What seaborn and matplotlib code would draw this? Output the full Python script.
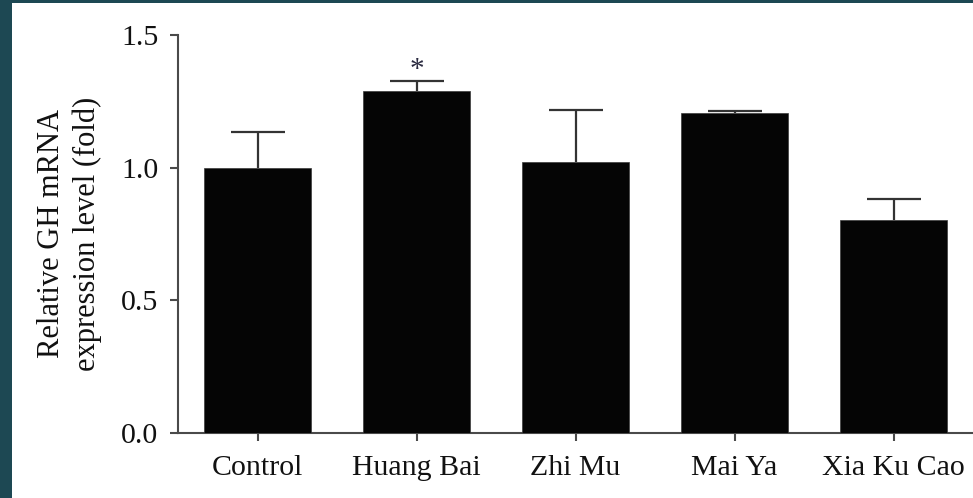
import matplotlib
matplotlib.use("Agg")
import matplotlib.pyplot as plt
import matplotlib.patches as mpatches
import numpy as np
import pandas as pd
import seaborn as sns

# Relative GH mRNA expression per treatment (mean and upper SEM)
groups = ["Control", "Huang Bai", "Zhi Mu", "Mai Ya", "Xia Ku Cao"]
means = [1.00, 1.288, 1.020, 1.206, 0.804]
sems = [0.133, 0.038, 0.199, 0.007, 0.079]
significant = [False, True, False, False, False]
y_ticks = [0.0, 0.5, 1.0, 1.5]

sns.set_theme(style="ticks")
plt.rcParams["font.family"] = ["Liberation Serif", "DejaVu Serif"]

axis_grey = "#4a4a4a"
fig = plt.figure(figsize=(9.73, 4.98), dpi=100)
fig.patch.set_facecolor("white")

# dark frame strips along the left and top edges
frame = "#1d4853"
fig.patches.append(mpatches.Rectangle((0, 0), 12 / 973, 1, transform=fig.transFigure,
                                      facecolor=frame, edgecolor="none", zorder=-5))
fig.patches.append(mpatches.Rectangle((0, 1 - 3 / 498), 1, 3 / 498, transform=fig.transFigure,
                                      facecolor=frame, edgecolor="none", zorder=-5))

ax = fig.add_axes([178 / 973, (498 - 433) / 498, (973 - 178) / 973, (433 - 35) / 498])

df = pd.DataFrame({"group": groups, "mean": means, "sem": sems})
sns.barplot(data=df, x="group", y="mean", order=groups, color="#050505",
            width=0.667, edgecolor="#3a3a3a", linewidth=0.5, errorbar=None,
            saturation=1, ax=ax)
for bar in ax.patches:
    bar.set_zorder(3)

# upper error bars only: hide the caps at the bar tops
xpos = np.arange(len(groups))
_, caps, _ = ax.errorbar(xpos, means, yerr=[np.zeros(len(sems)), sems], fmt="none",
                         ecolor="#333333", elinewidth=1.6, capsize=19.5,
                         capthick=1.6, zorder=1)
caps[0].set_visible(False)

for x, m, s, sig in zip(xpos, means, sems, significant):
    if sig:
        ax.annotate("*", xy=(x, m + s), xytext=(0, -1), textcoords="offset points",
                    ha="center", va="bottom", fontsize=21, color="#2a2a40")

ax.set_xlim(-0.5, len(groups) - 0.5)
ax.set_ylim(0, 1.5)
ax.set_yticks(y_ticks)
ax.set_yticklabels([f"{v:.1f}" for v in y_ticks])
ax.set_xlabel("")
ax.set_ylabel("Relative GH mRNA\nexpression level (fold)", fontsize=22,
              labelpad=14, linespacing=1.3, color="#111111")

sns.despine(ax=ax)
for side in ("left", "bottom"):
    ax.spines[side].set_color(axis_grey)
    ax.spines[side].set_linewidth(1.5)
ax.tick_params(axis="both", colors=axis_grey, width=1.5, length=6,
               labelsize=21.5, labelcolor="#111111")
ax.tick_params(axis="y", pad=8)
ax.tick_params(axis="x", pad=10)
ax.set_facecolor("white")

fig.savefig("out.png", dpi=100, facecolor=fig.get_facecolor())
